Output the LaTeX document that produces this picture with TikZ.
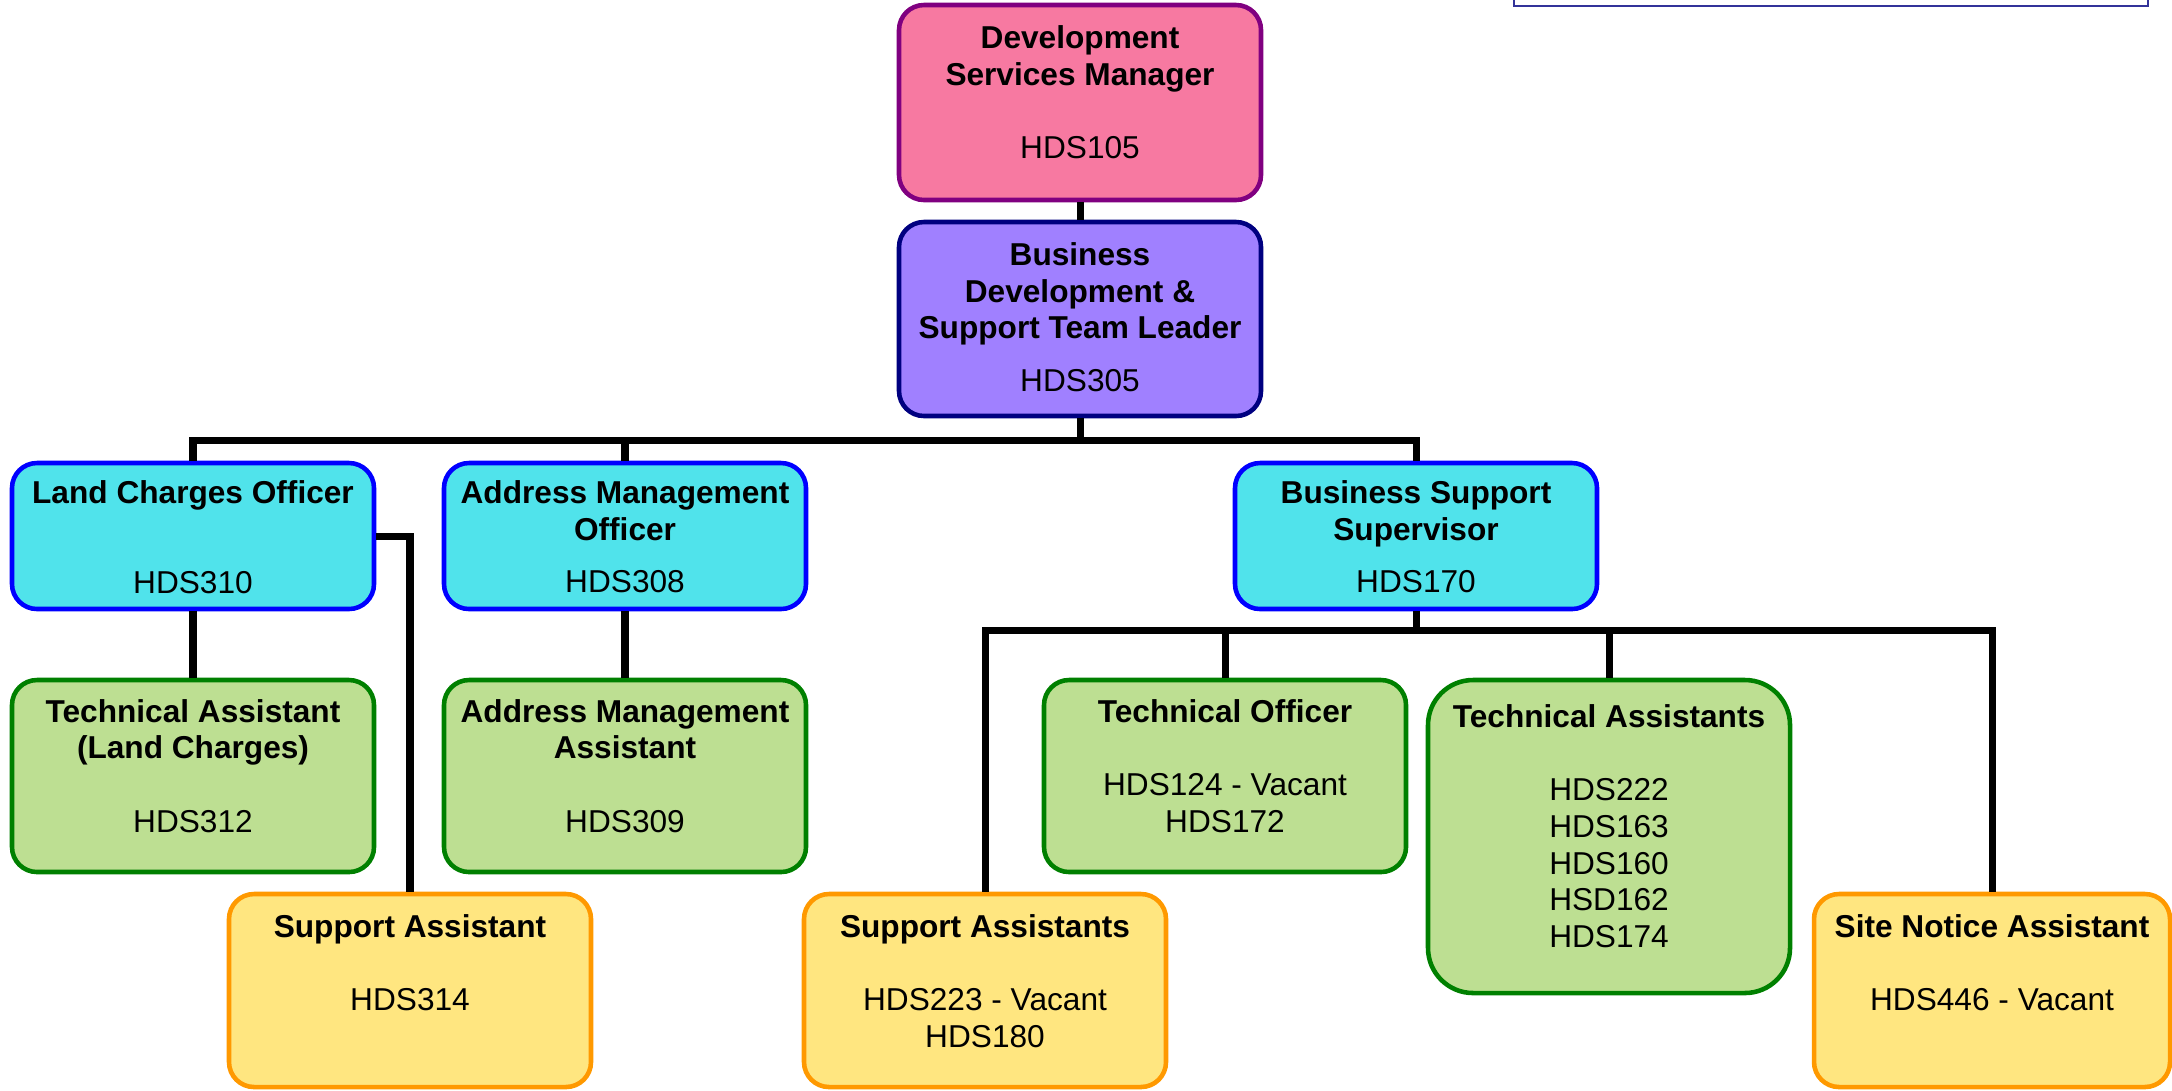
\documentclass[tikz,border=0pt]{standalone}
\usepackage{fontspec}
\setmainfont{Liberation Sans}
\definecolor{mgrfill}{RGB}{247,121,161}
\definecolor{mgrline}{RGB}{128,0,128}
\definecolor{leadfill}{RGB}{160,128,255}
\definecolor{leadline}{RGB}{0,0,128}
\definecolor{offfill}{RGB}{80,227,235}
\definecolor{offline}{RGB}{0,0,255}
\definecolor{techfill}{RGB}{189,223,146}
\definecolor{techline}{RGB}{0,128,0}
\definecolor{suppfill}{RGB}{255,230,128}
\definecolor{suppline}{RGB}{255,153,0}
\definecolor{framecol}{RGB}{51,51,153}
\newcommand{\post}[3][12pt]{\parbox[c][#2][t]{3.62cm}{\centering\rule{0pt}{#1}#3}}
\begin{document}
\begin{tikzpicture}[
    post/.style={draw, line width=1.3pt, rounded corners=0.25cm, inner sep=0pt,
        font=\fontsize{9}{10.44}\selectfont},
    mgr/.style={post, fill=mgrfill, draw=mgrline},
    lead/.style={post, fill=leadfill, draw=leadline},
    officer/.style={post, fill=offfill, draw=offline},
    tech/.style={post, fill=techfill, draw=techline},
    supp/.style={post, fill=suppfill, draw=suppline},
    link/.style={line width=2pt}]
\useasboundingbox (0,0) rectangle (21.72,-10.90);

\draw[framecol, line width=0.8pt] (15.14,0.2) |- (21.48,-0.06) -- (21.48,0.2);

\node[mgr] (dsm) at (10.80,-1.025) {\post[12.4pt]{1.95cm}{\textbf{Development\\Services Manager}\\[10.4pt]HDS105}};
\node[lead] (bdstl) at (10.80,-3.19) {\post[12.4pt]{1.94cm}{\textbf{Business\\Development \&\\Support Team Leader}\\[4.5pt]HDS305}};

\node[officer] (lco) at (1.93,-5.36) {\post[11.6pt]{1.46cm}{\textbf{Land Charges Officer}\\[15pt]HDS310}};
\node[officer] (amo) at (6.25,-5.36) {\post[11.6pt]{1.46cm}{\textbf{Address Management\\Officer}\\[4.5pt]HDS308}};
\node[officer] (bss) at (14.16,-5.36) {\post[11.6pt]{1.46cm}{\textbf{Business Support\\Supervisor}\\[4.5pt]HDS170}};

\node[tech] (tlc) at (1.93,-7.76) {\post{1.92cm}{\textbf{Technical Assistant\\(Land Charges)}\\[10.4pt]HDS312}};
\node[tech] (ama) at (6.25,-7.76) {\post{1.92cm}{\textbf{Address Management\\Assistant}\\[10.4pt]HDS309}};
\node[tech] (to) at (12.25,-7.76) {\post{1.92cm}{\textbf{Technical Officer}\\[10.4pt]HDS124 - Vacant\\HDS172}};
\node[tech, rounded corners=0.45cm] (tas) at (16.09,-8.365) {\post[13.5pt]{3.13cm}{\textbf{Technical Assistants}\\[10.4pt]HDS222\\HDS163\\HDS160\\HSD162\\HDS174}};

\node[supp] (sa) at (4.10,-9.905) {\post[12.3pt]{1.93cm}{\textbf{Support Assistant}\\[10.4pt]HDS314}};
\node[supp] (sas) at (9.85,-9.905) {\post[12.3pt]{1.93cm}{\textbf{Support Assistants}\\[10.4pt]HDS223 - Vacant\\HDS180}};
\node[supp] (sna) at (19.92,-9.905) {\parbox[c][1.93cm][t]{3.56cm}{\centering\rule{0pt}{12.3pt}\textbf{Site Notice Assistant}\\[10.4pt]HDS446 - Vacant}};

% reporting lines
\coordinate (topbus) at (10.80,-4.40);
\coordinate (midbus) at (14.16,-6.30);
\draw[link] (dsm) -- (bdstl);
\draw[link] (bdstl) -- (topbus);
\draw[link] (topbus) -| (lco);
\draw[link] (topbus) -| (amo);
\draw[link] (topbus) -| (bss);
\draw[link] (lco) -- (tlc);
\draw[link] (amo) -- (ama);
\draw[link] (lco.east) -| (sa);
\draw[link] (bss) -- (midbus);
\foreach \n in {sas,to,tas,sna}
{
    \draw[link] (midbus) -| (\n);
}
\end{tikzpicture}
\end{document}
